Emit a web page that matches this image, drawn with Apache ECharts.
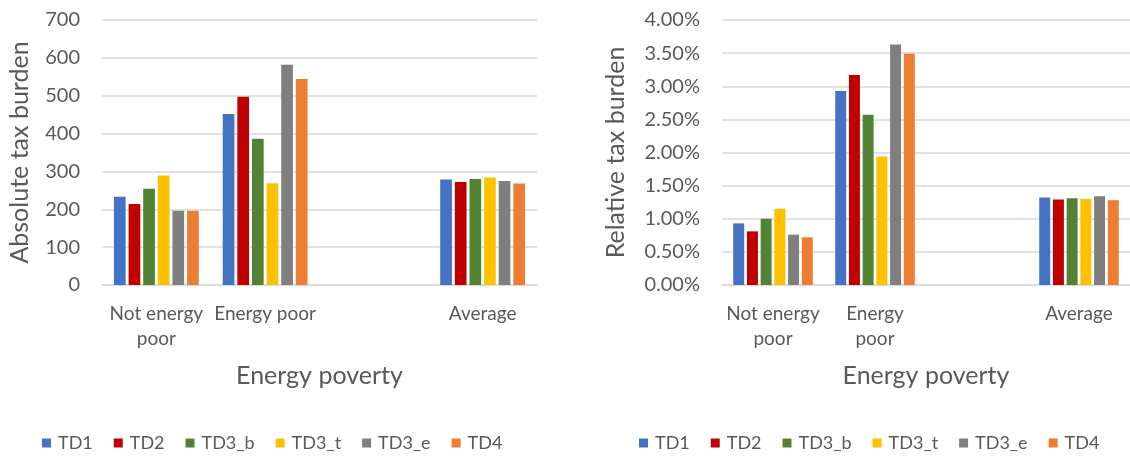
<!DOCTYPE html>
<html>
<head>
<meta charset="utf-8">
<title>Tax burden by energy poverty</title>
<script src="https://cdn.jsdelivr.net/npm/echarts@6/dist/echarts.min.js"></script>
<style>
  html, body { margin: 0; padding: 0; background: #fff; }
  #chart { width: 1130px; height: 458px; }
</style>
</head>
<body>
<div id="chart"></div>
<script>
const seriesNames = ['TD1', 'TD2', 'TD3_b', 'TD3_t', 'TD3_e', 'TD4']
const seriesColors = ['#4472C4', '#C00000', '#548235', '#FFC000', '#7F7F7F', '#ED7D31']

// third category is an empty spacer, as in the original
const absoluteCategories = ['Not energy\npoor', 'Energy poor', '', 'Average']
const relativeCategories = ['Not energy\npoor', 'Energy\npoor', '', 'Average']

// absolute tax burden
const absTD1 = [233, 452, null, 279]
const absTD2 = [214, 497, null, 272]
const absTD3b = [254, 386, null, 280]
const absTD3t = [289, 269, null, 284]
const absTD3e = [196, 582, null, 275]
const absTD4 = [196, 544, null, 268]

// relative tax burden, in percent
const relTD1 = [0.93, 2.93, null, 1.32]
const relTD2 = [0.81, 3.17, null, 1.29]
const relTD3b = [1.00, 2.57, null, 1.31]
const relTD3t = [1.15, 1.94, null, 1.30]
const relTD3e = [0.76, 3.63, null, 1.34]
const relTD4 = [0.72, 3.49, null, 1.28]

const absoluteValues = [absTD1, absTD2, absTD3b, absTD3t, absTD3e, absTD4]
const relativeValues = [relTD1, relTD2, relTD3b, relTD3t, relTD3e, relTD4]

const FONT = 'Lato, "Liberation Sans", sans-serif'
const TEXT = '#595959'
const GRID_LINE = '#D9D9D9'

function xAxisFor (gridIndex, categories) {
  return {
    type: 'category',
    gridIndex,
    data: categories,
    name: 'Energy poverty',
    nameLocation: 'middle',
    nameGap: 78,
    nameTextStyle: { fontFamily: FONT, fontSize: 25, color: TEXT },
    axisLine: { lineStyle: { color: GRID_LINE, width: 1.5 } },
    axisTick: { show: false },
    axisLabel: {
      interval: 0,
      margin: 16,
      fontFamily: FONT,
      fontSize: 19,
      lineHeight: 25,
      color: TEXT
    }
  }
}

function yAxisFor (gridIndex, name, max, interval, nameGap, formatter) {
  return {
    type: 'value',
    gridIndex,
    min: 0,
    max,
    interval,
    name,
    nameLocation: 'middle',
    nameGap,
    nameTextStyle: { fontFamily: FONT, fontSize: 25, color: TEXT },
    axisLine: { show: false },
    axisTick: { show: false },
    axisLabel: { margin: 22, fontFamily: FONT, fontSize: 20, color: TEXT, formatter },
    splitLine: { lineStyle: { color: GRID_LINE, width: 1.5, type: 'solid' } }
  }
}

function legendAt (left) {
  return {
    left,
    top: 429,
    itemWidth: 9,
    itemHeight: 9,
    itemGap: 21,
    icon: 'rect',
    data: seriesNames,
    textStyle: { fontFamily: FONT, fontSize: 18, color: TEXT, padding: [0, 0, 0, 2] }
  }
}

const series = []
seriesNames.forEach((name, i) => {
  series.push({
    name,
    type: 'bar',
    xAxisIndex: 0,
    yAxisIndex: 0,
    barGap: '25%',
    barCategoryGap: '22%',
    itemStyle: { color: seriesColors[i] },
    data: absoluteValues[i]
  })
})
seriesNames.forEach((name, i) => {
  series.push({
    name,
    type: 'bar',
    xAxisIndex: 1,
    yAxisIndex: 1,
    barGap: '25%',
    barCategoryGap: '22%',
    itemStyle: { color: seriesColors[i] },
    data: relativeValues[i]
  })
})

const option = {
  animation: false,
  backgroundColor: '#fff',
  grid: [
    { left: 102, top: 20, width: 435, height: 265 },
    { left: 722, top: 20, width: 412, height: 265 }
  ],
  legend: [legendAt(37), legendAt(634)],
  xAxis: [xAxisFor(0, absoluteCategories), xAxisFor(1, relativeCategories)],
  yAxis: [
    yAxisFor(0, 'Absolute tax burden', 700, 100, 70, (v) => v),
    yAxisFor(1, 'Relative tax burden', 4, 0.5, 94, (v) => v.toFixed(2) + '%')
  ],
  series
}

const chart = echarts.init(document.getElementById('chart'))
chart.setOption(option)
window.addEventListener('resize', () => chart.resize())
</script>
</body>
</html>
